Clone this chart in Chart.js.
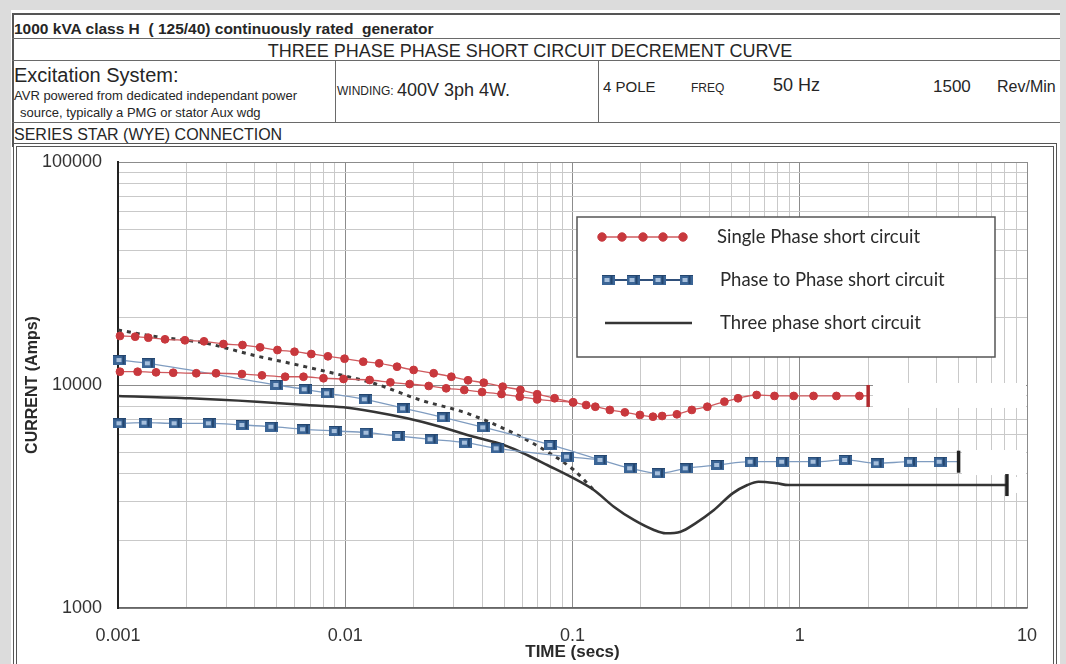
<!DOCTYPE html>
<html><head><meta charset="utf-8">
<script src="https://cdn.jsdelivr.net/npm/chart.js@4.4.1/dist/chart.umd.min.js"></script>
<style>
html,body{margin:0;padding:0;}
body{width:1066px;height:664px;overflow:hidden;background:#dcdcdc;position:relative;font-family:"Liberation Sans",Arial,sans-serif;color:#262626;}
#paper{position:absolute;left:11px;top:10px;width:1049px;height:660px;background:#fff;}
.t{position:absolute;white-space:nowrap;line-height:1;}
.hl{position:absolute;height:0;border-top:1px solid #6a6a6a;}
.vl{position:absolute;width:0;border-left:1px solid #6a6a6a;}
.fr{position:absolute;border:1px solid #555;}
#c{position:absolute;left:0;top:0;}
</style></head>
<body>
<div id="paper"></div>
<div class="hl" style="left:12px;top:13px;width:1048px;border-top:2px solid #555"></div>
<div class="vl" style="left:12px;top:13px;height:134px;border-left:2px solid #555"></div>
<div class="hl" style="left:12px;top:38px;width:1048px"></div>
<div class="hl" style="left:12px;top:60px;width:1048px"></div>
<div class="hl" style="left:12px;top:122px;width:1048px"></div>
<div class="vl" style="left:335px;top:60px;height:62px"></div>
<div class="vl" style="left:598px;top:60px;height:62px"></div>
<div class="fr" style="left:13px;top:143px;width:1042px;height:540px"></div>
<div class="fr" style="left:16px;top:146px;width:1036px;height:540px"></div>

<div class="t" style="left:14px;top:21px;font-size:15.5px;font-weight:bold">1000 kVA class H&nbsp; ( 125/40) continuously rated&nbsp; generator</div>
<div class="t" style="left:530px;top:42px;font-size:18px;transform:translateX(-50%)">THREE PHASE PHASE SHORT CIRCUIT DECREMENT CURVE</div>
<div class="t" style="left:14px;top:65px;font-size:20px">Excitation System:</div>
<div class="t" style="left:14px;top:89px;font-size:13px">AVR powered from dedicated independant power</div>
<div class="t" style="left:20px;top:106px;font-size:13px">source, typically a PMG or stator Aux wdg</div>
<div class="t" style="left:337px;top:85px;font-size:12px">WINDING:</div>
<div class="t" style="left:397px;top:81px;font-size:18px">400V 3ph 4W.</div>
<div class="t" style="left:603px;top:79px;font-size:15px">4 POLE</div>
<div class="t" style="left:691px;top:82px;font-size:12px">FREQ</div>
<div class="t" style="left:773px;top:76px;font-size:18px">50 Hz</div>
<div class="t" style="left:933px;top:78px;font-size:17px">1500</div>
<div class="t" style="left:997px;top:79px;font-size:16px">Rev/Min</div>
<div class="t" style="left:14px;top:127px;font-size:16px">SERIES STAR (WYE) CONNECTION</div>

<canvas id="c" width="1066" height="664" style="width:1066px;height:664px"></canvas>
<script>
// ---------- data (time in s, current in A) ----------
const xTickLabels = ['0.001','0.01','0.1','1','10'];
const yTickLabels = ['1000','10000','100000'];
const legendLabels = ['Single Phase short circuit','Phase to Phase short circuit','Three phase short circuit'];

const singleUpperT = [0.00102,0.00119,0.00136,0.00161,0.00197,0.00239,0.00291,0.00353,0.00422,0.00503,0.00598,0.00709,0.00839,0.00993,0.0120,0.0141,0.0169,0.0200,0.0245,0.0293,0.0347,0.0407,0.0493,0.0590,0.0699,0.0834,0.1006,0.1148,0.126,0.146,0.170,0.198,0.226,0.248,0.288,0.335,0.392,0.466,0.535,0.646,0.774,0.941,1.15,1.45,1.83,2.0];
const singleUpperI = [16590,16470,16300,16030,15870,15700,15270,15110,14760,14350,14100,13770,13450,13120,12720,12510,12080,11680,11290,10890,10500,10240,9830,9500,9090,8720,8360,8130,7990,7730,7540,7340,7210,7260,7390,7730,7990,8420,8720,9020,8930,8930,8930,8930,8930,8930];

const singleLowerT = [0.00102,0.00122,0.00147,0.00175,0.00221,0.0027,0.00351,0.0043,0.00544,0.00655,0.00802,0.00983,0.0128,0.0158,0.0192,0.0233,0.0278,0.0334,0.0400,0.0487,0.0586,0.0699,0.1006];
const singleLowerI = [11470,11470,11400,11350,11290,11290,11200,11050,10890,10890,10720,10640,10530,10280,10100,9900,9665,9500,9300,9110,8860,8620,8360];

const p2pUpperT = [0.00102,0.00136,0.0050,0.00666,0.00836,0.01225,0.01806,0.02695,0.04067,0.0803,0.1334,0.1801,0.2388,0.3166,0.4352,0.6108,0.8408,1.156,1.591,2.19,3.07,4.15,5.0];
const p2pUpperI = [12945,12510,10000,9565,9180,8628,7860,7164,6460,5383,4612,4231,4018,4231,4378,4530,4530,4530,4612,4456,4530,4530,4530];

const p2pLowerT = [0.00102,0.001315,0.001783,0.002524,0.003542,0.004755,0.006551,0.009034,0.01246,0.01717,0.02385,0.03378,0.04659,0.09507,0.1334];
const p2pLowerI = [6735,6777,6735,6735,6617,6501,6329,6219,6111,5907,5709,5513,5201,4772,4612];

const threeT = [0.001,0.002076,0.004083,0.006782,0.009829,0.01332,0.0187,0.02621,0.03674,0.04983,0.06316,0.07736,0.09799,0.1241,0.152,0.1862,0.2281,0.2569,0.299,0.3475,0.4193,0.5063,0.5884,0.6582,0.7943,0.889,8.16];
const threeI = [8927,8718,8415,8133,7943,7591,7089,6501,5860,5383,4856,4378,3881,3381,2846,2481,2238,2163,2199,2398,2751,3267,3559,3684,3623,3559,3559];

const envelopeT = [0.001,0.00148,0.002458,0.003012,0.004083,0.005723,0.008882,0.01332,0.0214,0.03436,0.05513,0.07736,0.1013,0.1241];
const envelopeI = [17640,16470,15380,14610,13490,12510,11290,10180,8564,7466,6074,5024,4158,3381];

// blank (erased) patches of the scanned grid, as [tFrom, tTo, iLow, iHigh]
const erasedPatches = [[2.1, 10, 7890, 10210], [5.17, 10, 3945, 5112], [8.4, 10, 3280, 3868]];

// ---------- helpers ----------
const pts = (ts, is) => ts.map((t, i) => ({x: t, y: is[i]}));
const isPow10 = v => Math.abs(Math.log10(v) - Math.round(Math.log10(v))) < 1e-9;
function logTicks(labels){
  const vals = labels.map(Number), out = [];
  for (let d = 0; d < vals.length - 1; d++)
    for (let k = 1; k <= 9; k++) out.push({value: Number((vals[d] * k).toPrecision(6))});
  out.push({value: vals[vals.length - 1]});
  return out;
}
function labelFor(labels){
  return v => { const f = labels.find(l => Math.abs(Number(l) - v) / v < 1e-6); return f === undefined ? '' : f; };
}

const RED = '#c8383d', RED_LINE = '#cf5a5e', BLUE_LINE = '#7f9cc0', DARK = '#353535';

function makeBlueMarker(){
  const c = document.createElement('canvas'); c.width = 13; c.height = 10;
  const g = c.getContext('2d');
  g.fillStyle = '#3b6596'; g.fillRect(0, 0, 13, 10);
  g.fillStyle = '#a6bfdc'; g.fillRect(3, 3, 5, 4);
  g.fillStyle = '#24466f'; g.fillRect(9, 1, 2, 8); g.fillRect(0, 0, 13, 1);
  return c;
}
const blueMarker = makeBlueMarker();

function endCapped(n, normalStyle, normalRadius, capColor, normalColor){
  const last = c => c.dataIndex === n - 1;
  return {
    pointStyle: c => last(c) ? 'line' : normalStyle,
    pointRotation: c => last(c) ? 90 : 0,
    pointRadius: c => last(c) ? 11 : normalRadius,
    pointBorderWidth: c => last(c) ? 3.5 : 1,
    pointBorderColor: c => last(c) ? capColor : normalColor,
    pointBackgroundColor: normalColor
  };
}

// ---------- white patches where the scan lost its grid ----------
const erased = {
  id: 'erased',
  beforeDatasetsDraw(chart){
    const {ctx, scales: {x, y}} = chart;
    ctx.save(); ctx.fillStyle = '#fff';
    erasedPatches.forEach(([t0, t1, i0, i1]) => {
      const x0 = x.getPixelForValue(t0), x1 = x.getPixelForValue(t1) - 1;
      const y0 = y.getPixelForValue(i1), y1 = y.getPixelForValue(i0);
      ctx.fillRect(x0, y0, x1 - x0, y1 - y0);
    });
    ctx.restore();
  }
};

// ---------- legend drawn inside plot ----------
const insideLegend = {
  id: 'insideLegend',
  afterDatasetsDraw(chart){
    const ctx = chart.ctx, H = Chart.helpers;
    const bx = 577, by = 217, bw = 418, bh = 140;
    ctx.save();
    ctx.fillStyle = '#fff'; ctx.fillRect(bx, by, bw, bh);
    ctx.strokeStyle = '#555'; ctx.lineWidth = 1.5; ctx.strokeRect(bx, by, bw, bh);
    const rows = [237, 280, 323];
    ctx.strokeStyle = RED_LINE; ctx.lineWidth = 1.5;
    ctx.beginPath(); ctx.moveTo(598, rows[0]); ctx.lineTo(685, rows[0]); ctx.stroke();
    ctx.fillStyle = RED; ctx.strokeStyle = RED; ctx.lineWidth = 1;
    [602, 622, 643, 663, 683].forEach(x => H.drawPoint(ctx, {pointStyle: 'circle', radius: 4.2, rotation: 0, borderWidth: 1}, x, rows[0]));
    ctx.strokeStyle = '#2f4f7a'; ctx.lineWidth = 2;
    ctx.beginPath(); ctx.moveTo(604, rows[1]); ctx.lineTo(690, rows[1]); ctx.stroke();
    [608, 633, 659, 686].forEach(x => H.drawPoint(ctx, {pointStyle: blueMarker, radius: 5, rotation: 0, borderWidth: 0}, x, rows[1]));
    ctx.strokeStyle = DARK; ctx.lineWidth = 2.6;
    ctx.beginPath(); ctx.moveTo(605, rows[2]); ctx.lineTo(692, rows[2]); ctx.stroke();
    ctx.fillStyle = '#2b2b2b'; ctx.font = '18.5px Lato, "Open Sans", sans-serif'; ctx.textBaseline = 'middle';
    legendLabels.forEach((s, i) => ctx.fillText(s, i === 0 ? 717 : 720, rows[i]));
    ctx.restore();
  }
};

const gridColor = c => isPow10(c.tick.value) ? '#8c8c8c' : '#c9c9c9';

Chart.defaults.font.family = '"Liberation Sans", Arial, sans-serif';

new Chart(document.getElementById('c'), {
  type: 'line',
  data: {
    datasets: [
      Object.assign({label: legendLabels[0], data: pts(singleUpperT, singleUpperI), borderColor: RED_LINE, borderWidth: 1.3}, endCapped(singleUpperT.length, 'circle', 3.9, '#b02a2f', RED)),
      {label: 'single-lower', data: pts(singleLowerT, singleLowerI), borderColor: RED_LINE, borderWidth: 1.3, pointStyle: 'circle', pointRadius: 3.9, pointBackgroundColor: RED, pointBorderColor: RED, pointBorderWidth: 1},
      Object.assign({label: legendLabels[1], data: pts(p2pUpperT, p2pUpperI), borderColor: BLUE_LINE, borderWidth: 1.3}, endCapped(p2pUpperT.length, blueMarker, 6, '#222', '#3b6596')),
      {label: 'p2p-lower', data: pts(p2pLowerT, p2pLowerI), borderColor: BLUE_LINE, borderWidth: 1.3, pointStyle: blueMarker, pointRadius: 6},
      Object.assign({label: legendLabels[2], data: pts(threeT, threeI), borderColor: DARK, borderWidth: 2.6}, endCapped(threeT.length, 'circle', 0, '#222', DARK)),
      {label: 'envelope', data: pts(envelopeT, envelopeI), borderColor: '#3a3a3a', borderWidth: 3, borderDash: [4, 5], pointRadius: 0}
    ]
  },
  options: {
    responsive: false,
    animation: false,
    devicePixelRatio: 1,
    clip: false,
    layout: {padding: {top: 162, right: 39, left: 0, bottom: 0}},
    plugins: {legend: {display: false}, tooltip: {enabled: false}},
    elements: {line: {cubicInterpolationMode: 'monotone'}},
    scales: {
      x: {
        type: 'logarithmic', min: 0.001, max: 10,
        afterBuildTicks: s => { s.ticks = logTicks(xTickLabels); },
        afterFit: s => { s.height = 56; },
        ticks: {autoSkip: false, maxRotation: 0, padding: 17, color: '#333', font: {size: 18}, callback: labelFor(xTickLabels)},
        grid: {color: gridColor, lineWidth: 1, drawTicks: false},
        border: {color: '#666', width: 1.5},
        title: {display: true, text: 'TIME (secs)', color: '#2a2a2a', font: {size: 17, weight: 'bold'}, padding: {top: 0, bottom: 1}}
      },
      y: {
        type: 'logarithmic', min: 1000, max: 100000,
        afterBuildTicks: s => { s.ticks = logTicks(yTickLabels); },
        afterFit: s => { s.width = 118; },
        ticks: {autoSkip: false, padding: 16, color: '#333', font: {size: 18}, callback: labelFor(yTickLabels)},
        grid: {color: gridColor, lineWidth: 1, drawTicks: false},
        border: {color: '#222', width: 2},
        title: {display: true, text: 'CURRENT (Amps)', color: '#2a2a2a', font: {size: 16, weight: 'bold'}, padding: {top: 23, bottom: 0}}
      }
    }
  },
  plugins: [erased, insideLegend]
});
</script>
</body></html>
